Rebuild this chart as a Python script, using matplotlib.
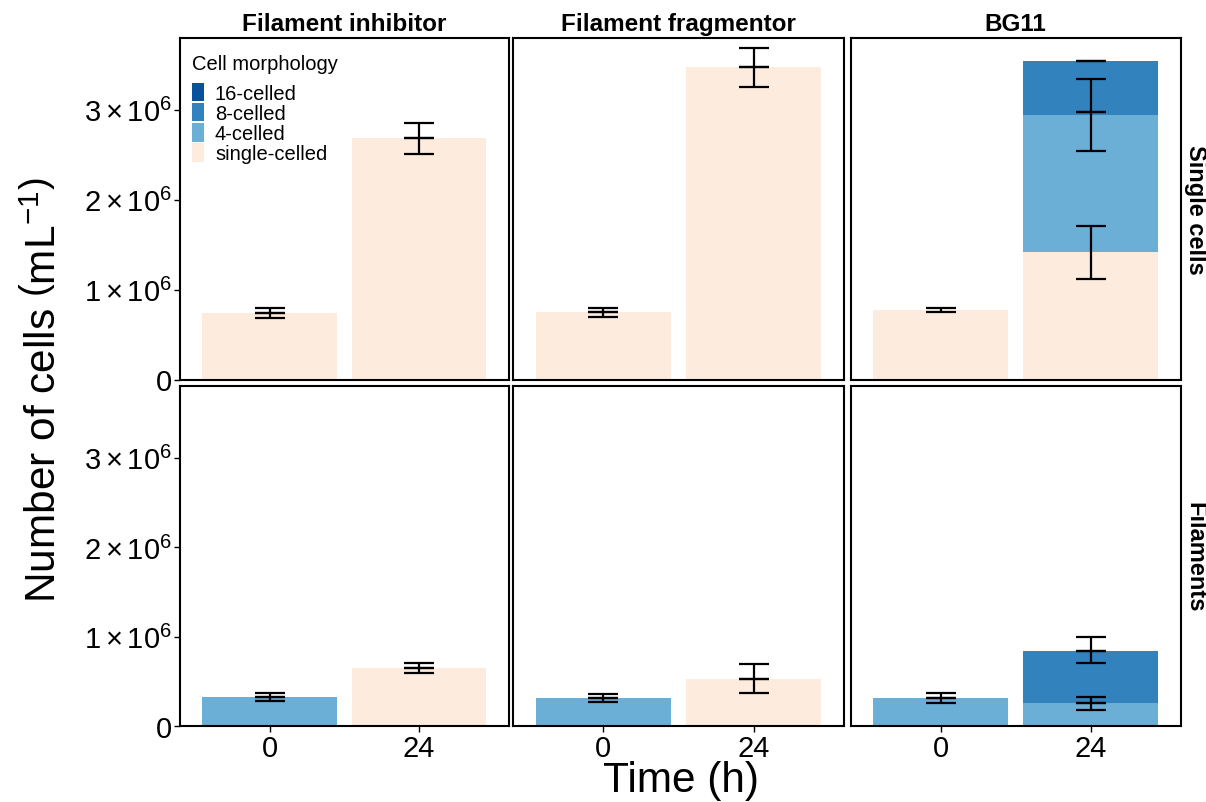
import numpy as np
import matplotlib
matplotlib.use('Agg')
import matplotlib.pyplot as plt
from matplotlib.patches import Patch
from matplotlib.ticker import FuncFormatter

plt.rcParams['font.family'] = ['Liberation Sans', 'DejaVu Sans']
plt.rcParams['mathtext.fontset'] = 'custom'
plt.rcParams['mathtext.rm'] = 'Liberation Sans'
plt.rcParams['mathtext.it'] = 'Liberation Sans:italic'
plt.rcParams['mathtext.bf'] = 'Liberation Sans:bold'

# data, in 10^6 cells per mL
facets = ['Filament inhibitor', 'Filament fragmentor', 'BG11']
rows = ['Single cells', 'Filaments']
times = ['0', '24']
morphs = ['single-celled', '4-celled', '8-celled', '16-celled']
colors = ['#FDEBDD', '#6BAED6', '#3182BD', '#08519C']

# per facet: [0 h, 24 h]
single_single = [[0.739, 2.683], [0.750, 3.472], [0.772, 1.417]]
single_4cell = [[0, 0], [0, 0], [0, 1.522]]
single_8cell = [[0, 0], [0, 0], [0, 0.600]]
single_16cell = [[0, 0], [0, 0], [0, 0]]

fil_single = [[0, 0.648], [0, 0.528], [0, 0]]
fil_4cell = [[0.321, 0], [0.313, 0], [0.313, 0.254]]
fil_8cell = [[0, 0], [0, 0], [0, 0.584]]
fil_16cell = [[0, 0], [0, 0], [0, 0]]

# error bars per facet: (time index, centre, half range)
single_err = [
    [(0, 0.739, 0.056), (0, 0.739, 0), (1, 2.683, 0.173), (1, 2.683, 0)],
    [(0, 0.750, 0.050), (0, 0.750, 0), (1, 3.472, 0.217), (1, 3.472, 0)],
    [(0, 0.772, 0.020), (1, 1.417, 0.296), (1, 2.939, 0.400),
     (1, 2.977, 0), (1, 3.539, 0)],
]
fil_err = [
    [(0, 0.321, 0.045), (0, 0.321, 0), (1, 0.648, 0.052), (1, 0.648, 0)],
    [(0, 0.313, 0.042), (0, 0.313, 0), (1, 0.528, 0.160), (1, 0.528, 0)],
    [(0, 0.313, 0.054), (0, 0.313, 0), (1, 0.254, 0.073), (1, 0.254, 0),
     (1, 0.847, 0.147), (1, 0.838, 0)],
]

row_layers = [
    [single_single, single_4cell, single_8cell, single_16cell],
    [fil_single, fil_4cell, fil_8cell, fil_16cell],
]
row_errs = [single_err, fil_err]

W, H = 1206, 803
fig = plt.figure(figsize=(W / 100, H / 100), dpi=100)

col_px = [(180, 508.7), (513, 844), (850.7, 1180.7)]
row_px = [(39, 380.5), (387, 727)]


def fmt(v, pos):
    if v == 0:
        return '0'
    return r'$%d\times10^{6}$' % round(v)


for r in range(2):
    for c in range(3):
        x0, x1 = col_px[c]
        y0, y1 = row_px[r]
        ax = fig.add_axes([x0 / W, 1 - y1 / H, (x1 - x0) / W, (y1 - y0) / H])
        x = np.arange(len(times))
        bottom = np.zeros(len(times))
        for k, layer in enumerate(row_layers[r]):
            vals = np.array(layer[c])
            ax.bar(x, vals, width=0.9, bottom=bottom, color=colors[k],
                   edgecolor='none', label=morphs[k])
            bottom += vals
        et = [e[0] for e in row_errs[r][c]]
        em = [e[1] for e in row_errs[r][c]]
        eh = [e[2] for e in row_errs[r][c]]
        ax.errorbar(et, em, yerr=eh, fmt='none', ecolor='black',
                    elinewidth=1.6, capsize=10.8, capthick=1.6, zorder=5)
        ax.set_xlim(-0.6, 1.6)
        ax.set_ylim(0, 3.8)
        for s in ax.spines.values():
            s.set_linewidth(1.5)
            s.set_color('black')
        ax.set_yticks([0, 1, 2, 3])
        ax.set_xticks(x)
        ax.tick_params(direction='out', length=4, width=1, colors='black',
                       labelsize=21, pad=2)
        if c == 0:
            ax.yaxis.set_major_formatter(FuncFormatter(fmt))
        else:
            ax.tick_params(axis='y', left=False, labelleft=False)
        if r == 1:
            ax.set_xticklabels(times)
        else:
            ax.tick_params(axis='x', bottom=False, labelbottom=False)
        if r == 0:
            ax.set_title(facets[c], fontsize=17.5, fontweight='bold', pad=6)
        if c == 2:
            fig.text(1195 / W, 1 - (y0 + y1) / 2 / H, rows[r], rotation=270,
                     fontsize=17, fontweight='bold', ha='center', va='center')
        if r == 0 and c == 0:
            handles = [Patch(facecolor=colors[k], edgecolor='none')
                       for k in range(3, -1, -1)]
            leg = ax.legend(handles, morphs[::-1], title='Cell morphology',
                            loc='upper left', bbox_to_anchor=(0.036, 0.953),
                            frameon=False, fontsize=14.5,
                            title_fontsize=14.5, handlelength=0.6,
                            handleheight=1.04, labelspacing=0.0,
                            handletextpad=0.55, borderaxespad=0.0,
                            borderpad=0.0)
            leg._legend_box.align = 'left'
            leg._legend_box.sep = 7

fig.text(45 / W, 1 - 390 / H, r'Number of cells $\left(\mathrm{mL}^{-1}\right)$',
         rotation=90, fontsize=30.5, ha='center', va='center')
fig.text(681 / W, 1 - 781 / H, 'Time (h)', fontsize=30.5, ha='center', va='center')

fig.savefig('out.png', dpi=100)
